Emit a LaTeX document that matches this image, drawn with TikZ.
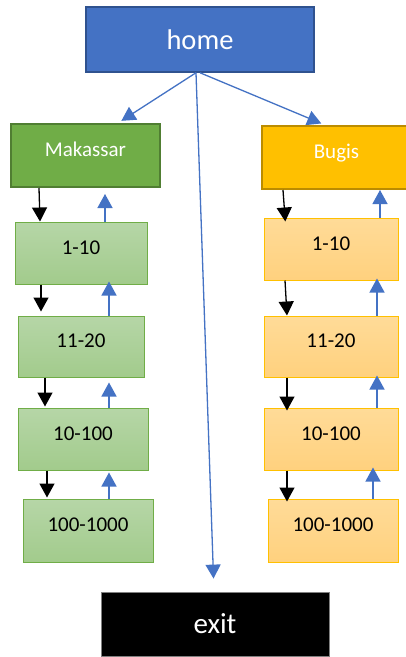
\documentclass[tikz,border=0pt]{standalone}
\usepackage{fontspec}
\setmainfont{Carlito}
\usetikzlibrary{arrows.meta}
\definecolor{hblue}{HTML}{4472C4}
\definecolor{hblued}{HTML}{2F528F}
\definecolor{mgreen}{HTML}{70AD47}
\definecolor{mgreend}{HTML}{507E32}
\definecolor{bgold}{HTML}{FFC000}
\definecolor{bgoldd}{HTML}{BC8C00}
\definecolor{gtop}{RGB}{182,214,167}
\definecolor{gbot}{RGB}{162,203,140}
\definecolor{otop}{RGB}{255,219,152}
\definecolor{obot}{RGB}{255,209,126}
\tikzset{
  box/.style={rectangle, inner sep=0pt, font=\fontsize{21}{21}\selectfont, text height=14pt, text depth=12pt},
  bigbox/.style={rectangle, inner sep=0pt, font=\fontsize{28.5}{28.5}\selectfont, text=white},
  topg/.style={box, fill=mgreen, draw=mgreend, line width=2pt, text=white},
  topo/.style={box, fill=bgold, draw=bgoldd, line width=2pt, text=white},
  gbox/.style={box, top color=gtop, bottom color=gbot, draw=mgreen, line width=1pt},
  obox/.style={box, top color=otop, bottom color=obot, draw=bgold, line width=1pt},
  blk/.style={line width=1.3pt, black, -{Triangle[width=15pt,length=14pt]}},
  blu/.style={line width=1.3pt, hblue, -{Triangle[width=15pt,length=14pt]}},
}
\begin{document}
\begin{tikzpicture}[x=1pt,y=-1pt]
\useasboundingbox (0,0) rectangle (406,657);
\fill[white] (0,0) rectangle (406,657);
% boxes
\node[bigbox, fill=hblue, draw=hblued, line width=1.5pt, minimum width=228pt, minimum height=65pt] (home) at (200,39.5) {home};
\node[topg, minimum width=149pt, minimum height=63pt] (mak) at (85.5,155.5) {Makassar};
\node[topo, minimum width=149pt, minimum height=63pt] (bug) at (336.5,157.5) {Bugis};
\node[gbox, minimum width=132pt, minimum height=62pt] (g1) at (81,253) {1-10};
\node[gbox, minimum width=126pt, minimum height=61pt] (g2) at (81,346.5) {11-20};
\node[gbox, minimum width=130pt, minimum height=62pt] (g3) at (83,439) {10-100};
\node[gbox, minimum width=130pt, minimum height=63pt] (g4) at (88,530.5) {100-1000};
\node[obox, minimum width=134pt, minimum height=62pt] (o1) at (331,249) {1-10};
\node[obox, minimum width=134pt, minimum height=61pt] (o2) at (331,346.5) {11-20};
\node[obox, minimum width=134pt, minimum height=62pt] (o3) at (331,439) {10-100};
\node[obox, minimum width=130pt, minimum height=63pt] (o4) at (333,530.5) {100-1000};
\node[bigbox, fill=black, draw=gray, line width=0.8pt, minimum width=228pt, minimum height=64pt, font=\fontsize{29}{29}\selectfont] (exit) at (215,624) {exit};
% home arrows
\draw[blu, shorten >=4pt] (home.south -| 196,0) -- (mak.north -| 118,0);
\draw[blu, shorten >=4pt] (home.south -| 200,0) -- (bug.north -| 325,0);
\draw[blu, shorten >=13pt] (home.south -| 196,0) -- (exit.north -| 214,0);
% left chain down
\draw[blk] (mak.south -| 39,0) -- (g1.north -| 40,0);
\draw[blk, shorten >=4pt] (g1.south -| 41,0) -- (g2.north -| 41,0);
\draw[blk, shorten >=1pt] (g2.south -| 45,0) -- (g3.north -| 45,0);
\draw[blk, shorten >=1pt] (g3.south -| 47,0) -- (g4.north -| 47,0);
% left chain up
\draw[blu, shorten >=6pt] (g1.north -| 105,0) -- (mak.south -| 105,0);
\draw[blu, shorten >=-3pt] (g2.north -| 109,0) -- (g1.south -| 109,0);
\draw[blu, shorten >=5pt] (g3.north -| 109,0) -- (g2.south -| 109,0);
\draw[blu, shorten >=2pt] (g4.north -| 109,0) -- (g3.south -| 109,0);
% right chain down
\draw[blk, shorten >=-4pt] (bug.south -| 283,0) -- (o1.north -| 285,0);
\draw[blk] (o1.south -| 285,0) -- (o2.north -| 287,0);
\draw[blk, shorten >=-3pt] (o2.south -| 287,0) -- (o3.north -| 287,0);
\draw[blk, shorten >=-3pt] (o3.south -| 287,0) -- (o4.north -| 287,0);
% right chain up
\draw[blu] (o1.north -| 380,0) -- (bug.south -| 380,0);
\draw[blu, shorten >=-2pt] (o2.north -| 377,0) -- (o1.south -| 377,0);
\draw[blu, shorten >=-2pt] (o3.north -| 377,0) -- (o2.south -| 377,0);
\draw[blu, shorten >=-3pt] (o4.north -| 373,0) -- (o3.south -| 373,0);
\end{tikzpicture}
\end{document}
